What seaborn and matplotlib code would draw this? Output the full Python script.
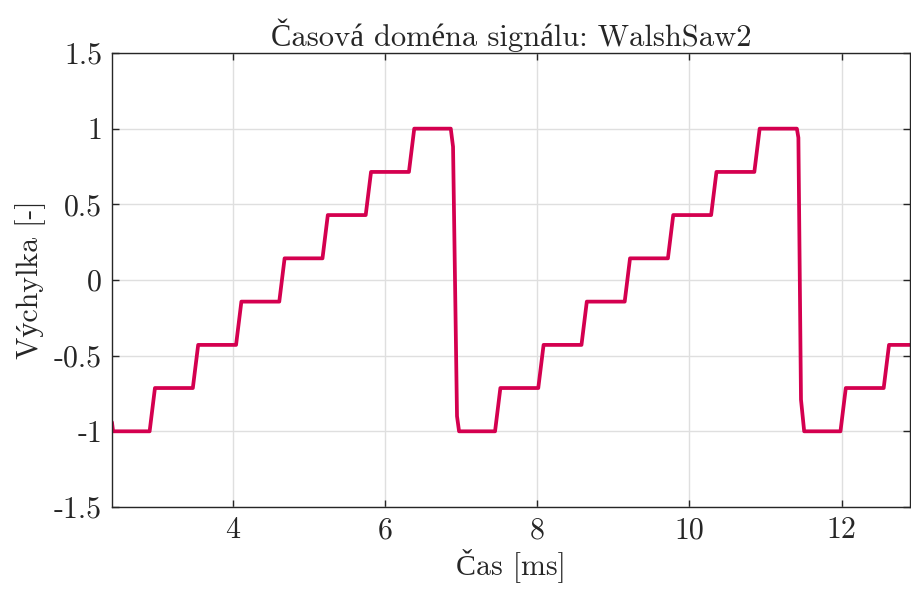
import numpy as np
import pandas as pd
import matplotlib
matplotlib.use("Agg")
import matplotlib.pyplot as plt
import seaborn as sns

# breakpoints of the sampled staircase (time in ms, amplitude)
cas_ms = [2.410, 2.425,
          2.905, 2.975, 3.473, 3.543, 4.041, 4.111, 4.609, 4.679,
          5.177, 5.247, 5.745, 5.815, 6.313, 6.383,
          6.863, 6.893, 6.945, 6.972,
          7.445, 7.515, 8.013, 8.083, 8.581, 8.651, 9.149, 9.219,
          9.717, 9.787, 10.285, 10.355, 10.853, 10.923,
          11.412, 11.432, 11.466, 11.508,
          11.985, 12.055, 12.553, 12.623, 12.900]
vychylka = [-0.94, -1.0,
            -1.0, -0.714, -0.714, -0.429, -0.429, -0.143, -0.143, 0.143,
            0.143, 0.429, 0.429, 0.714, 0.714, 1.0,
            1.0, 0.88, -0.90, -1.0,
            -1.0, -0.714, -0.714, -0.429, -0.429, -0.143, -0.143, 0.143,
            0.143, 0.429, 0.429, 0.714, 0.714, 1.0,
            1.0, 0.94, -0.79, -1.0,
            -1.0, -0.714, -0.714, -0.429, -0.429]

x_ticks = [4, 6, 8, 10, 12]
y_ticks = [-1.5, -1, -0.5, 0, 0.5, 1, 1.5]
y_tick_labels = ["-1.5", "-1", "-0.5", "0", "0.5", "1", "1.5"]

df = pd.DataFrame({"t": cas_ms, "y": vychylka})

sns.set_style("ticks")
plt.rcParams["font.family"] = ["cmr10", "Liberation Serif"]
plt.rcParams["axes.unicode_minus"] = False
plt.rcParams["axes.formatter.use_mathtext"] = False

fig = plt.figure(figsize=(9.11, 5.94), dpi=100)
ax = fig.add_axes([0.1229, 0.1465, 0.8761, 0.7643])

sns.lineplot(data=df, x="t", y="y", sort=False, estimator=None,
             color="#d4004f", linewidth=2.7, ax=ax)

ax.set_xlim(2.41, 12.9)
ax.set_ylim(-1.5, 1.5)
ax.set_xticks(x_ticks)
ax.set_xticklabels([str(v) for v in x_ticks])
ax.set_yticks(y_ticks)
ax.set_yticklabels(y_tick_labels)
ax.grid(True, color="#dfdfdf", linewidth=1)
ax.tick_params(direction="in", length=5, width=1, color="#262626",
               labelsize=21.5, labelcolor="#262626", top=True, right=True, pad=7)
for s in ax.spines.values():
    s.set_color("#262626")
    s.set_linewidth(1)
    s.set_visible(True)

ax.set_title("Časová doména signálu: WalshSaw2", fontsize=22, pad=5)
ax.set_xlabel("Čas [ms]", fontsize=21.5, labelpad=3)
ax.set_ylabel("Výchylka [-]", fontsize=21.5, labelpad=6)

fig.savefig("out.png", dpi=100)
